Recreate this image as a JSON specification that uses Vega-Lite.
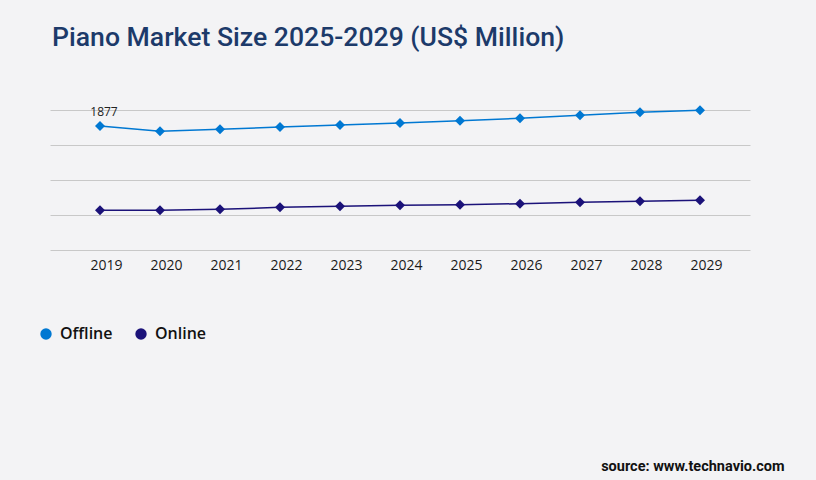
{
  "$schema": "https://vega.github.io/schema/vega-lite/v6.json",
  "width": 700,
  "height": 140,
  "autosize": {"type": "none"},
  "padding": {"left": 50, "top": 110, "right": 66, "bottom": 230},
  "background": "#f3f3f5",
  "config": {"view": {"stroke": null}},
  "title": {
    "text": "Piano Market Size 2025-2029 (US$ Million)",
    "anchor": "start",
    "frame": "group",
    "baseline": "alphabetic",
    "offset": 33,
    "dx": 2,
    "font": "Roboto",
    "fontSize": 26.6,
    "fontWeight": 500,
    "color": "#1c3a6a"
  },
  "data": {
    "values": [
      {"year": "2019", "segment": "Offline", "value": 1877},
      {"year": "2020", "segment": "Offline", "value": 1797},
      {"year": "2021", "segment": "Offline", "value": 1828},
      {"year": "2022", "segment": "Offline", "value": 1862},
      {"year": "2023", "segment": "Offline", "value": 1893},
      {"year": "2024", "segment": "Offline", "value": 1923},
      {"year": "2025", "segment": "Offline", "value": 1958},
      {"year": "2026", "segment": "Offline", "value": 1994},
      {"year": "2027", "segment": "Offline", "value": 2039},
      {"year": "2028", "segment": "Offline", "value": 2085},
      {"year": "2029", "segment": "Offline", "value": 2115},
      {"year": "2019", "segment": "Online", "value": 601},
      {"year": "2020", "segment": "Online", "value": 601},
      {"year": "2021", "segment": "Online", "value": 616},
      {"year": "2022", "segment": "Online", "value": 646},
      {"year": "2023", "segment": "Online", "value": 662},
      {"year": "2024", "segment": "Online", "value": 677},
      {"year": "2025", "segment": "Online", "value": 686},
      {"year": "2026", "segment": "Online", "value": 701},
      {"year": "2027", "segment": "Online", "value": 722},
      {"year": "2028", "segment": "Online", "value": 737},
      {"year": "2029", "segment": "Online", "value": 752}
    ]
  },
  "encoding": {
    "x": {
      "field": "year",
      "type": "ordinal",
      "scale": {"type": "point", "padding": 0.8333},
      "axis": {
        "title": "source: www.technavio.com",
        "titleFont": "Roboto",
        "titleFontSize": 14.5,
        "titleFontWeight": "bold",
        "titleColor": "#111111",
        "titleAnchor": "end",
        "titleAlign": "right",
        "titleBaseline": "alphabetic",
        "titleX": 734,
        "titleY": 220,
        "labelAngle": 0,
        "labelFont": "Open Sans",
        "labelFontSize": 14,
        "labelColor": "#1a1a1a",
        "labelPadding": 8,
        "labelOffset": 6,
        "domain": false,
        "ticks": false,
        "grid": false
      }
    },
    "y": {
      "field": "value",
      "type": "quantitative",
      "scale": {"domain": [0, 2120], "nice": false, "zero": false},
      "axis": {
        "values": [0, 530, 1060, 1590, 2120],
        "labels": false,
        "ticks": false,
        "domain": false,
        "title": null,
        "grid": true,
        "gridColor": "#c8c8c8",
        "gridWidth": 1
      }
    }
  },
  "layer": [
    {
      "mark": {"type": "point", "shape": "diamond", "filled": true, "size": 100, "opacity": 1},
      "encoding": {
        "color": {
          "field": "segment",
          "type": "nominal",
          "scale": {"domain": ["Offline", "Online"], "range": ["#0078d2", "#1b1279"]},
          "legend": {
            "title": null,
            "orient": "none",
            "direction": "horizontal",
            "legendX": -12,
            "legendY": 216,
            "padding": 0,
            "symbolType": "circle",
            "symbolSize": 130,
            "symbolStrokeWidth": 0,
            "symbolOpacity": 1,
            "labelFont": "Open Sans",
            "labelFontSize": 16,
            "labelFontWeight": 600,
            "labelColor": "#111111",
            "labelOffset": 6,
            "columnPadding": 20
          }
        }
      }
    },
    {
      "mark": {"type": "line", "strokeWidth": 1.5},
      "encoding": {
        "color": {"field": "segment", "type": "nominal"}
      }
    },
    {
      "transform": [{"filter": "datum.year == '2019' && datum.segment == 'Offline'"}],
      "mark": {"type": "text", "dx": 4, "dy": -10, "baseline": "alphabetic", "font": "Open Sans", "fontSize": 12, "color": "#222222"},
      "encoding": {"text": {"field": "value", "type": "quantitative"}}
    }
  ]
}
